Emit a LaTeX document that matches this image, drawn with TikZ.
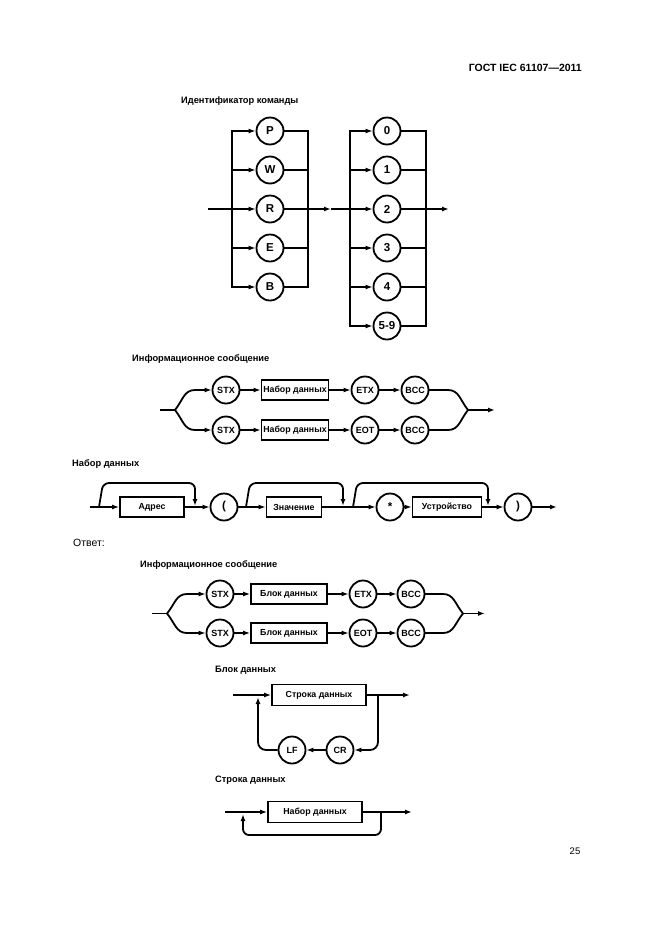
\documentclass[tikz,border=0pt]{standalone}
\usepackage{fontspec}
\setmainfont{Liberation Sans}
\usetikzlibrary{arrows.meta}

\begin{document}
\begin{tikzpicture}[x=1pt,y=-1pt,
  ln/.style={line width=1.8pt},
  ar/.style={ln,-{Latex[length=7pt,width=5pt]}},
  term/.style={circle,draw,line width=1.8pt,minimum size=27pt,inner sep=0pt,font=\fontsize{9}{10}\selectfont\bfseries},
  bigterm/.style={term,font=\fontsize{11.5}{12}\selectfont\bfseries},
  nterm/.style={rectangle,draw,line width=1.8pt,minimum height=20pt,inner sep=0pt,font=\fontsize{8.8}{10}\selectfont\bfseries},
  ttl/.style={anchor=west,inner sep=0pt,font=\fontsize{9.3}{11}\selectfont\bfseries}]
  \useasboundingbox (0,0) rectangle (661,935);
  \node[anchor=east,inner sep=0pt,font=\fontsize{10.5}{12}\selectfont\bfseries] (hdr) at (582,68) {ГОСТ IEC 61107—2011};
  \node[inner sep=0pt,font=\fontsize{9.5}{11}\selectfont] (pg) at (575,851) {25};

  \node[ttl] (t1) at (181,101) {Идентификатор команды};
  \coordinate (in1) at (208,209);
  \coordinate (m1) at (331,209);
  \coordinate (out1) at (449,209);
  \foreach \lbl [count=\i from 0] in {P,W,R,E,B}{
    \node[bigterm] (a\i) at (270,{131+39*\i}) {\lbl};
    \coordinate (al\i) at (232,{131+39*\i});
    \coordinate (ar\i) at (308,{131+39*\i});
    \draw[ar] (al\i) -- (a\i);
    \draw[ln] (a\i) -- (ar\i);
  }
  \foreach \lbl [count=\i from 0] in {0,1,2,3,4,5-9}{
    \node[bigterm] (b\i) at (387,{131+39*\i}) {\lbl};
    \coordinate (bl\i) at (350,{131+39*\i});
    \coordinate (br\i) at (426,{131+39*\i});
    \draw[ar] (bl\i) -- (b\i);
    \draw[ln] (b\i) -- (br\i);
  }
  \draw[ln,line cap=rect] (al0) -- (al4) (ar0) -- (ar4) (bl0) -- (bl5) (br0) -- (br5);
  \draw[ln] (in1) -- (al2);
  \draw[ar] (ar2) -- (m1);
  \draw[ln] (m1) -- (bl2);
  \draw[ar] (br2) -- (out1);

  \node[ttl] (t2) at (132,359) {Информационное сообщение};
  \coordinate (in2) at (160,410);
  \coordinate (sp2) at (175,410);
  \coordinate (mg2) at (468,410);
  \coordinate (out2) at (495,410);
  \foreach \y/\e/\k in {390/ETX/u,430/EOT/d}{
    \coordinate (\k s2) at (195,\y);
    \coordinate (\k e2) at (448,\y);
    \node[term] (\k stx2) at (226,\y) {STX};
    \node[nterm,minimum width=67pt] (\k dat2) at (295,\y) {Набор данных};
    \node[term] (\k end2) at (365,\y) {\e};
    \node[term] (\k bcc2) at (415,\y) {BCC};
    \draw[ar] (\k s2) -- (\k stx2);
    \draw[ar] (\k stx2) -- (\k dat2);
    \draw[ar] (\k dat2) -- (\k end2);
    \draw[ar] (\k end2) -- (\k bcc2);
    \draw[ln] (\k bcc2) -- (\k e2);
  }
  \draw[ln] (in2) -- (sp2);
  \draw[ln] (us2) .. controls (184,390) and (183,400) .. (sp2) .. controls (183,420) and (184,430) .. (ds2);
  \draw[ln] (ue2) .. controls (459,390) and (460,400) .. (mg2) .. controls (460,420) and (459,430) .. (de2);
  \draw[ar] (mg2) -- (out2);

  \node[ttl] (t3) at (72,464) {Набор данных};
  \coordinate (in3) at (90,507);
  \coordinate (out3) at (557,507);
  \node[nterm,minimum width=64pt] (adr) at (152,507) {Адрес};
  \node[bigterm] (lp) at (224,507) {(};
  \node[nterm,minimum width=55pt] (val) at (294,507) {Значение};
  \node[bigterm] (st) at (390,507) {*};
  \node[nterm,minimum width=69pt] (dev) at (447,507) {Устройство};
  \node[bigterm] (rp) at (518,507) {)};
  \draw[ar] (in3) -- (adr);
  \draw[ar] (adr) -- (lp);
  \draw[ar] (lp) -- (val);
  \draw[ar] (val) -- (st);
  \draw[ar] (st) -- (dev);
  \draw[ar] (dev) -- (rp);
  \draw[ar] (rp) -- (out3);
  \foreach \a/\b/\n in {103/195/1,250/343/2,357/488/3}{
    \coordinate (ls\n) at ({\a-4},507);
    \coordinate (lu\n) at (\a,483);
    \coordinate (lv\n) at (\b,483);
    \coordinate (le\n) at (\b,506);
    \draw[ar,rounded corners=6pt] (ls\n) -- (lu\n) -- (lv\n) -- (le\n);
  }

  \node[anchor=west,inner sep=0pt,font=\fontsize{10.5}{12}\selectfont] (ans) at (73,543) {Ответ:};
  \node[ttl] (t4) at (140,565) {Информационное сообщение};
  \coordinate (in4) at (152,613.5);
  \coordinate (sp4) at (167,613.5);
  \coordinate (mg4) at (463,613.5);
  \coordinate (out4) at (485,613.5);
  \foreach \y/\e/\k in {594/ETX/u,633/EOT/d}{
    \coordinate (\k s4) at (187,\y);
    \coordinate (\k e4) at (443,\y);
    \node[term] (\k stx4) at (220,\y) {STX};
    \node[nterm,minimum width=76pt] (\k blk4) at (289,\y) {Блок данных};
    \node[term] (\k end4) at (363,\y) {\e};
    \node[term] (\k bcc4) at (411,\y) {BCC};
    \draw[ar] (\k s4) -- (\k stx4);
    \draw[ar] (\k stx4) -- (\k blk4);
    \draw[ar] (\k blk4) -- (\k end4);
    \draw[ar] (\k end4) -- (\k bcc4);
    \draw[ln] (\k bcc4) -- (\k e4);
  }
  \draw[ln] (in4) -- (sp4);
  \draw[ln] (us4) .. controls (176,594) and (175,604) .. (sp4) .. controls (175,623) and (176,633) .. (ds4);
  \draw[ln] (ue4) .. controls (454,594) and (455,604) .. (mg4) .. controls (455,623) and (454,633) .. (de4);
  \draw[ar] (mg4) -- (out4);

  \node[ttl] (t5) at (215,670) {Блок данных};
  \coordinate (in5) at (233,695);
  \coordinate (out5) at (410,695);
  \node[nterm,minimum width=94pt,minimum height=21pt] (row5) at (319,695) {Строка данных};
  \node[term] (cr5) at (340,750) {CR};
  \node[term] (lf5) at (292,750) {LF};
  \coordinate (rs5) at (378,695);
  \coordinate (rd5) at (378,750);
  \coordinate (ld5) at (258,750);
  \coordinate (le5) at (258,697);
  \draw[ar] (in5) -- (row5);
  \draw[ar] (row5) -- (out5);
  \draw[ar,rounded corners=8pt] (rs5) -- (rd5) -- (cr5);
  \draw[ar] (cr5) -- (lf5);
  \draw[ar,rounded corners=8pt] (lf5) -- (ld5) -- (le5);

  \node[ttl] (t6) at (215,780) {Строка данных};
  \coordinate (in6) at (225,812);
  \coordinate (out6) at (412,812);
  \node[nterm,minimum width=94pt,minimum height=21pt] (set6) at (315,812) {Набор данных};
  \coordinate (rs6) at (381,812);
  \coordinate (rd6) at (381,835);
  \coordinate (ld6) at (243,835);
  \coordinate (le6) at (243,814);
  \draw[ar] (in6) -- (set6);
  \draw[ar] (set6) -- (out6);
  \draw[ar,rounded corners=6pt] (rs6) -- (rd6) -- (ld6) -- (le6);
\end{tikzpicture}
\end{document}
